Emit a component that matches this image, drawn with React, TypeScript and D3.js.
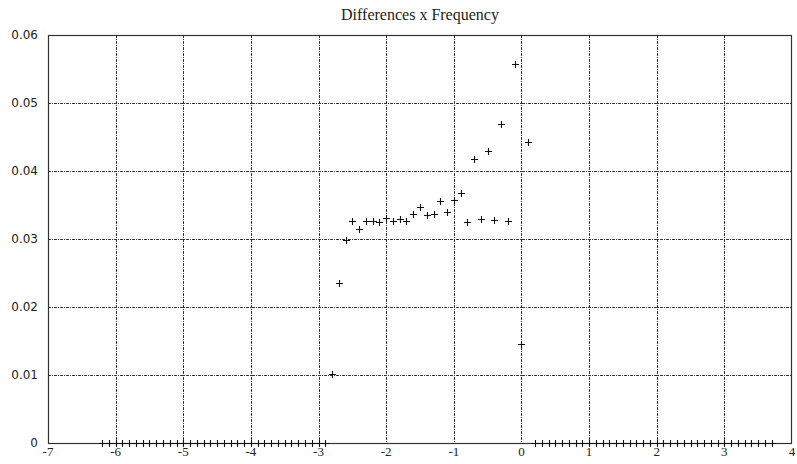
import React, { useEffect, useRef } from 'react';
import * as d3 from 'd3';

// differences (x) and their frequency (y)
const diffs = [-2.8, -2.7, -2.6, -2.5, -2.4, -2.3, -2.2, -2.1, -2.0, -1.9, -1.8, -1.7, -1.6, -1.5, -1.4,
  -1.3, -1.2, -1.1, -1.0, -0.9, -0.8, -0.7, -0.6, -0.5, -0.4, -0.3, -0.2, -0.1, 0.0, 0.1];
const freqs = [0.0101, 0.0235, 0.0298, 0.0327, 0.0315, 0.0327, 0.0327, 0.0325, 0.0331, 0.0326, 0.0329,
  0.0327, 0.0337, 0.0347, 0.0335, 0.0337, 0.0356, 0.0340, 0.0358, 0.0367, 0.0325, 0.0417, 0.0329,
  0.0429, 0.0328, 0.0469, 0.0326, 0.0557, 0.0146, 0.0442];

// differences with zero frequency (sit on the x axis)
const zeroDiffs = [-6.2, -6.1, -6.0, -5.9, -5.8, -5.7, -5.6, -5.5, -5.4, -5.3, -5.2, -5.1, -5.0, -4.9,
  -4.8, -4.7, -4.6, -4.5, -4.4, -4.3, -4.2, -4.1, -4.0, -3.9, -3.8, -3.7, -3.6, -3.5, -3.4, -3.3, -3.2,
  -3.1, -3.0, -2.9,
  0.2, 0.3, 0.4, 0.5, 0.6, 0.7, 0.8, 0.9, 1.0, 1.1, 1.2, 1.3, 1.4, 1.5, 1.6, 1.7, 1.8, 1.9, 2.0, 2.1,
  2.2, 2.3, 2.4, 2.5, 2.6, 2.7, 2.8, 2.9, 3.0, 3.1, 3.2, 3.3, 3.4, 3.5, 3.6, 3.7];

const xTicks = [-7, -6, -5, -4, -3, -2, -1, 0, 1, 2, 3, 4];
const yTicks = [0, 0.01, 0.02, 0.03, 0.04, 0.05, 0.06];

const title = 'Differences x Frequency';

export default function App() {
  const ref = useRef<SVGSVGElement>(null);

  useEffect(() => {
    const width = 797, height = 464;
    const m = { left: 48, right: 5, top: 35, bottom: 21 };
    const svg = d3.select(ref.current);
    svg.selectAll('*').remove();

    const x = d3.scaleLinear().domain([-7, 4]).range([m.left, width - m.right]);
    const y = d3.scaleLinear().domain([0, 0.06]).range([height - m.bottom, m.top]);

    svg.append('rect').attr('width', width).attr('height', height).attr('fill', '#fff');

    // grid
    const grid = svg.append('g').attr('stroke', '#333').attr('stroke-width', 1)
      .attr('stroke-dasharray', '3,1,1,1');
    grid.selectAll('.gx').data(xTicks.slice(1, -1)).join('line')
      .attr('x1', d => Math.round(x(d)) + 0.5).attr('x2', d => Math.round(x(d)) + 0.5)
      .attr('y1', m.top).attr('y2', height - m.bottom);
    grid.selectAll('.gy').data(yTicks.slice(1, -1)).join('line')
      .attr('class', 'gy')
      .attr('y1', d => Math.round(y(d)) + 0.5).attr('y2', d => Math.round(y(d)) + 0.5)
      .attr('x1', m.left).attr('x2', width - m.right);

    // frame
    svg.append('rect')
      .attr('x', m.left + 0.5).attr('y', m.top + 0.5)
      .attr('width', width - m.left - m.right - 1).attr('height', height - m.top - m.bottom)
      .attr('fill', 'none').attr('stroke', '#333').attr('stroke-width', 1.2);

    // tick labels
    svg.append('g').selectAll('text').data(xTicks).join('text')
      .attr('x', d => x(d)).attr('y', height - m.bottom + 13)
      .attr('text-anchor', 'middle')
      .attr('font-family', 'Liberation Serif, serif').attr('font-size', 13).attr('fill', '#222')
      .text(d => String(d));
    svg.append('g').selectAll('text').data(yTicks).join('text')
      .attr('x', 38).attr('y', d => y(d)).attr('dy', '0.35em')
      .attr('text-anchor', 'end')
      .attr('font-family', 'DejaVu Sans, sans-serif').attr('font-size', 12).attr('fill', '#222')
      .text(d => (d === 0 ? '0' : d3.format('.2f')(d)));

    // title
    svg.append('text')
      .attr('x', (m.left + width - m.right) / 2).attr('y', 20)
      .attr('text-anchor', 'middle')
      .attr('font-family', 'Liberation Serif, serif').attr('font-size', 16).attr('fill', '#222')
      .text(title);

    // points
    const pts = diffs.map((d, i) => [d, freqs[i]]).concat(zeroDiffs.map(d => [d, 0]));
    const s = 3.5;
    const plus = d3.path();
    pts.forEach(([dx, dy]) => {
      const px = Math.round(x(dx)) + 0.5, py = Math.round(y(dy)) + 0.5;
      plus.moveTo(px - s, py); plus.lineTo(px + s, py);
      plus.moveTo(px, py - s); plus.lineTo(px, py + s);
    });
    svg.append('path').attr('d', plus.toString())
      .attr('fill', 'none').attr('stroke', '#111').attr('stroke-width', 1.1);
  }, []);

  return (
    <div style={{ position: 'absolute', left: 0, top: 0 }}>
      <svg ref={ref} width={797} height={464} style={{ display: 'block' }} />
    </div>
  );
}
